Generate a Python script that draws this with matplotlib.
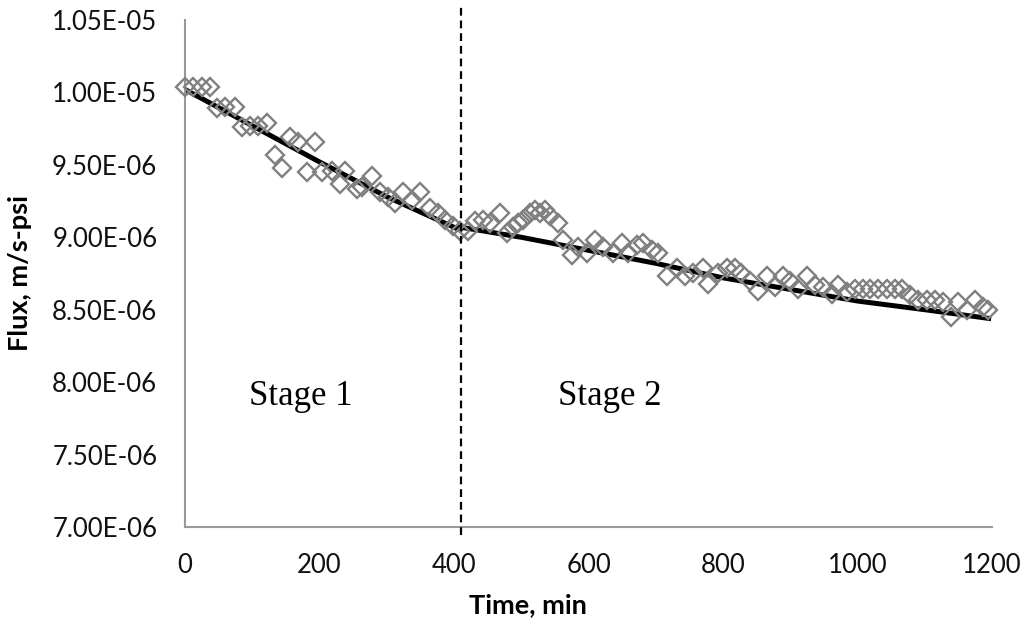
import numpy as np
import matplotlib
matplotlib.use("Agg")
import matplotlib.pyplot as plt
from matplotlib.ticker import FuncFormatter

# measured flux, stage 1 (values in 1E-06 m/s-psi)
time_s1 = [0, 12, 25, 37, 48, 59, 74, 85, 97, 109, 122, 134, 144, 156, 168,
           181, 193, 204, 219, 230, 238, 256, 263, 278, 290, 302, 312, 324,
           338, 349, 364, 376, 387, 399, 409]
flux_s1 = [10.04, 10.04, 10.04, 10.04, 9.89, 9.90, 9.90, 9.76, 9.77, 9.77,
           9.79, 9.57, 9.48, 9.69, 9.66, 9.45, 9.66, 9.45, 9.46, 9.37, 9.46,
           9.33, 9.35, 9.42, 9.31, 9.28, 9.24, 9.31, 9.26, 9.31, 9.20, 9.17,
           9.12, 9.08, 9.04]

# measured flux, stage 2
time_s2 = [421, 431, 443, 454, 468, 479, 488, 495, 503, 513, 520, 528, 535,
           543, 555, 562, 575, 584, 598, 610, 622, 636, 650, 659, 672, 681,
           694, 703, 717, 732, 743, 755, 770, 778, 793, 806, 818, 827, 840,
           852, 865, 877, 889, 900, 912, 925, 937, 949, 962, 971, 984, 996,
           1008, 1019, 1030, 1044, 1056, 1066, 1078, 1090, 1103, 1115, 1127,
           1139, 1149, 1163, 1175, 1187, 1194]
flux_s2 = [9.04, 9.11, 9.12, 9.10, 9.17, 9.03, 9.07, 9.10, 9.12, 9.17, 9.19,
           9.17, 9.19, 9.15, 9.10, 8.98, 8.88, 8.93, 8.89, 8.98, 8.93, 8.89,
           8.96, 8.89, 8.95, 8.96, 8.91, 8.89, 8.73, 8.79, 8.73, 8.75, 8.79,
           8.68, 8.75, 8.79, 8.79, 8.75, 8.70, 8.63, 8.73, 8.66, 8.73, 8.70,
           8.64, 8.73, 8.67, 8.66, 8.61, 8.67, 8.62, 8.64, 8.64, 8.64, 8.64,
           8.64, 8.64, 8.64, 8.60, 8.57, 8.57, 8.57, 8.55, 8.45, 8.55, 8.50,
           8.57, 8.52, 8.50]

# model fit lines
fit_t1 = [0, 100, 200, 300, 409]
fit_v1 = [10.02, 9.77, 9.52, 9.28, 9.05]
fit_t2 = [409, 500, 600, 700, 800, 900, 1000, 1100, 1195]
fit_v2 = [9.07, 9.00, 8.91, 8.82, 8.72, 8.64, 8.56, 8.50, 8.44]

stage_split = 410
stage_labels = ["Stage 1", "Stage 2"]
stage_label_x = [172, 632]
stage_label_y = 7.90

plt.rcParams['font.family'] = ['Lato', 'DejaVu Sans']

fig = plt.figure(figsize=(10.24, 6.24), dpi=100)
ax = fig.add_axes([0.1807, 0.1554, 0.7881, 0.8126])

grey = '#808080'
e6 = 1e-6
ax.plot(time_s1 + time_s2, np.array(flux_s1 + flux_s2) * e6, linestyle='none',
        marker='D', markersize=9.5, markerfacecolor='none',
        markeredgecolor=grey, markeredgewidth=1.7, zorder=3, clip_on=False)
ax.plot(fit_t1, np.array(fit_v1) * e6, color='black', lw=3.6, zorder=2)
ax.plot(fit_t2, np.array(fit_v2) * e6, color='black', lw=3.6, zorder=2)

ax.plot([stage_split, stage_split], [6.945e-6, 10.60e-6], color='black', lw=1.6,
        linestyle=(0, (3.5, 2.2)), clip_on=False, zorder=4)

for lab, x in zip(stage_labels, stage_label_x):
    ax.text(x, stage_label_y * e6, lab, family='Liberation Serif', fontsize=25,
            ha='center', va='center')

ax.set_xlim(0, 1200)
ax.set_ylim(7.0e-6, 1.05e-5)
ax.set_xticks(range(0, 1201, 200))
ax.set_yticks(np.arange(7.0, 10.51, 0.5) * e6)
ax.yaxis.set_major_formatter(FuncFormatter(lambda v, p: '{:.2E}'.format(v)))
ax.tick_params(length=0, labelsize=18.5, colors='#111111')
ax.tick_params(axis='y', pad=20)
ax.tick_params(axis='x', pad=19)

for s in ['top', 'right']:
    ax.spines[s].set_visible(False)
for s in ['left', 'bottom']:
    ax.spines[s].set_color('#999999')
    ax.spines[s].set_linewidth(1.5)

ax.set_xlabel('Time, min', fontsize=19.5, fontweight='bold')
ax.set_ylabel('Flux, m/s-psi', fontsize=19.5, fontweight='bold')
ax.xaxis.set_label_coords(0.425, -0.13)
ax.yaxis.set_label_coords(-0.19, 0.5)

fig.savefig('out.png', dpi=100)
